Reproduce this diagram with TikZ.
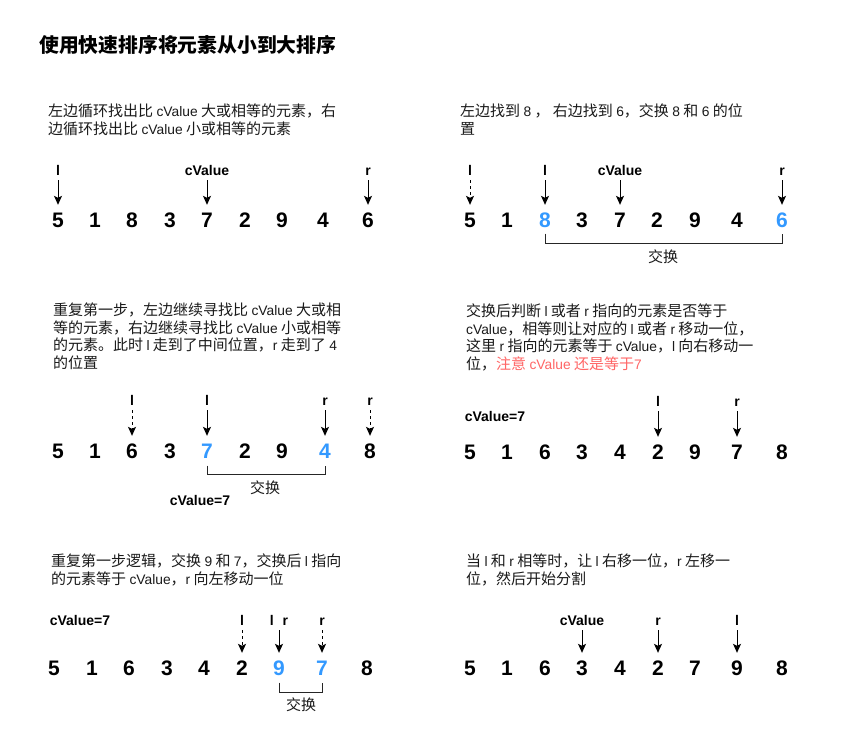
\documentclass[tikz,border=0pt]{standalone}
\usepackage{fontspec}
\usetikzlibrary{arrows.meta}
\setmainfont{Noto Sans CJK SC}
\newfontfamily\arialfont{Liberation Sans}
\definecolor{hiblue}{HTML}{3399FF}
\definecolor{notered}{HTML}{FF6666}
\definecolor{txt}{HTML}{1A1A1A}
\newcommand{\digfont}{\arialfont\bfseries\fontsize{21}{21}\selectfont}
\newcommand{\labfont}{\arialfont\bfseries\fontsize{14}{14}\selectfont}
\newcommand{\parfont}{\fontsize{15}{17.5}\selectfont}
\newcommand{\E}[1]{{\arialfont\fontsize{13.8}{17.5}\selectfont #1}}
\begin{document}
\begin{tikzpicture}[x=1pt,y=-1pt,
  dig/.style={font=\digfont, inner sep=0pt, text height=15pt, text depth=0pt},
  blu/.style={dig, text=hiblue},
  lab/.style={font=\labfont, inner sep=0pt, text height=10pt, text depth=0pt},
  para/.style={font=\parfont, text=txt, align=left, anchor=north west, inner sep=0pt},
  swp/.style={font=\parfont, text=txt, inner sep=0pt},
  arr/.style={draw, line width=1pt, -{Stealth[length=9pt,width=8pt,inset=2pt]}, shorten <=5pt, shorten >=7.5pt},
  darr/.style={arr, dash pattern=on 3pt off 3pt},
  brk/.style={draw=black!85, line width=0.8pt}
]
\useasboundingbox (0,0) rectangle (850,740);
\fill[white] (0,0) rectangle (850,740);

% title
\node[font=\bfseries\fontsize{19.8}{19.8}\selectfont, anchor=west, inner sep=0pt] (title) at (39,45) {使用快速排序将元素从小到大排序};

% ---------- panel 1 ----------
\node[para] (t1) at (48,104) {左边循环找出比 \E{cValue} 大或相等的元素，右\\边循环找出比 \E{cValue} 小或相等的元素};
\foreach \v/\x [count=\i] in {5/58,1/95,8/132,3/170,7/207,2/245,9/282,4/323,6/368}
  \node[dig] (a\i) at (\x,220) {\v};
\node[lab] (a-l) at (a1 |- 0,170) {l};
\node[lab] (a-c) at (a5 |- 0,170) {cValue};
\node[lab] (a-r) at (a9 |- 0,170) {r};
\draw[arr] (a-l) -- (a1);
\draw[arr] (a-c) -- (a5);
\draw[arr] (a-r) -- (a9);

% ---------- panel 2 ----------
\node[para] (t2) at (460,104) {左边找到 \E{8} ， 右边找到 \E{6}，交换 \E{8} 和 \E{6} 的位\\置};
\foreach \v/\x/\s [count=\i] in {5/470/dig,1/507/dig,8/545/blu,3/582/dig,7/620/dig,2/657/dig,9/695/dig,4/737/dig,6/782/blu}
  \node[\s] (b\i) at (\x,220) {\v};
\node[lab] (b-l0) at (b1 |- 0,170) {l};
\node[lab] (b-l) at (b3 |- 0,170) {l};
\node[lab] (b-c) at (b5 |- 0,170) {cValue};
\node[lab] (b-r) at (b9 |- 0,170) {r};
\draw[darr] (b-l0) -- (b1);
\draw[arr] (b-l) -- (b3);
\draw[arr] (b-c) -- (b5);
\draw[arr] (b-r) -- (b9);
\draw[brk] ([yshift=-6pt]b3.south) -- ++(0,10) -| ([yshift=-6pt]b9.south);
\node[swp] (b-sw) at (663,257) {交换};

% ---------- panel 3 ----------
\node[para] (t3) at (53,303) {重复第一步，左边继续寻找比 \E{cValue} 大或相\\等的元素，右边继续寻找比 \E{cValue} 小或相等\\的元素。此时 \E{l} 走到了中间位置，\E{r} 走到了 \E{4}\\的位置};
\foreach \v/\x/\s [count=\i] in {5/58/dig,1/95/dig,6/132/dig,3/170/dig,7/207/blu,2/245/dig,9/282/dig,4/325/blu,8/370/dig}
  \node[\s] (c\i) at (\x,451) {\v};
\node[lab] (c-l0) at (c3 |- 0,400) {l};
\node[lab] (c-l) at (c5 |- 0,400) {l};
\node[lab] (c-r) at (c8 |- 0,400) {r};
\node[lab] (c-r0) at (c9 |- 0,400) {r};
\draw[darr] (c-l0) -- (c3);
\draw[arr] (c-l) -- (c5);
\draw[arr] (c-r) -- (c8);
\draw[darr] (c-r0) -- (c9);
\draw[brk] ([yshift=-7pt]c5.south) -- ++(0,9) -| ([yshift=-7pt]c8.south);
\node[swp] (c-sw) at (265,488) {交换};
\node[lab] (c-cv) at (200,500) {cValue=7};

% ---------- panel 4 ----------
\node[para] (t4) at (466,304) {交换后判断 \E{l} 或者 \E{r} 指向的元素是否等于\\\E{cValue}，相等则让对应的 \E{l} 或者 \E{r} 移动一位，\\这里 \E{r} 指向的元素等于 \E{cValue}，\E{l} 向右移动一\\位，\textcolor{notered}{注意 \E{cValue} 还是等于\E{7}}};
\foreach \v/\x [count=\i] in {5/470,1/507,6/545,3/582,4/620,2/658,9/695,7/737,8/782}
  \node[dig] (d\i) at (\x,452) {\v};
\node[lab] (d-cv) at (495,416) {cValue=7};
\node[lab] (d-l) at (d6 |- 0,401) {l};
\node[lab] (d-r) at (d8 |- 0,401) {r};
\draw[arr] (d-l) -- (d6);
\draw[arr] (d-r) -- (d8);

% ---------- panel 5 ----------
\node[para] (t5) at (51,554) {重复第一步逻辑，交换 \E{9} 和 \E{7}，交换后 \E{l} 指向\\的元素等于 \E{cValue}，\E{r} 向左移动一位};
\foreach \v/\x/\s [count=\i] in {5/54/dig,1/92/dig,6/129/dig,3/167/dig,4/204/dig,2/242/dig,9/279/blu,7/322/blu,8/367/dig}
  \node[\s] (e\i) at (\x,668) {\v};
\node[lab] (e-cv) at (80,620) {cValue=7};
\node[lab] (e-l0) at (e6 |- 0,620) {l};
\node[lab] (e-lr) at (e7 |- 0,620) {l\hspace{9pt}r};
\node[lab] (e-r0) at (e8 |- 0,620) {r};
\draw[darr] (e-l0) -- (e6);
\draw[arr] (e-lr) -- (e7);
\draw[darr] (e-r0) -- (e8);
\draw[brk] ([yshift=-7pt]e7.south) -- ++(0,10) -| ([yshift=-7pt]e8.south);
\node[swp] (e-sw) at (301,705) {交换};

% ---------- panel 6 ----------
\node[para] (t6) at (466,554) {当 \E{l} 和 \E{r} 相等时，让 \E{l} 右移一位，\E{r} 左移一\\位，然后开始分割};
\foreach \v/\x [count=\i] in {5/470,1/507,6/545,3/582,4/620,2/658,7/695,9/737,8/782}
  \node[dig] (f\i) at (\x,668) {\v};
\node[lab] (f-c) at (f4 |- 0,620) {cValue};
\node[lab] (f-r) at (f6 |- 0,620) {r};
\node[lab] (f-l) at (f8 |- 0,620) {l};
\draw[arr] (f-c) -- (f4);
\draw[arr] (f-r) -- (f6);
\draw[arr] (f-l) -- (f8);
\end{tikzpicture}
\end{document}
